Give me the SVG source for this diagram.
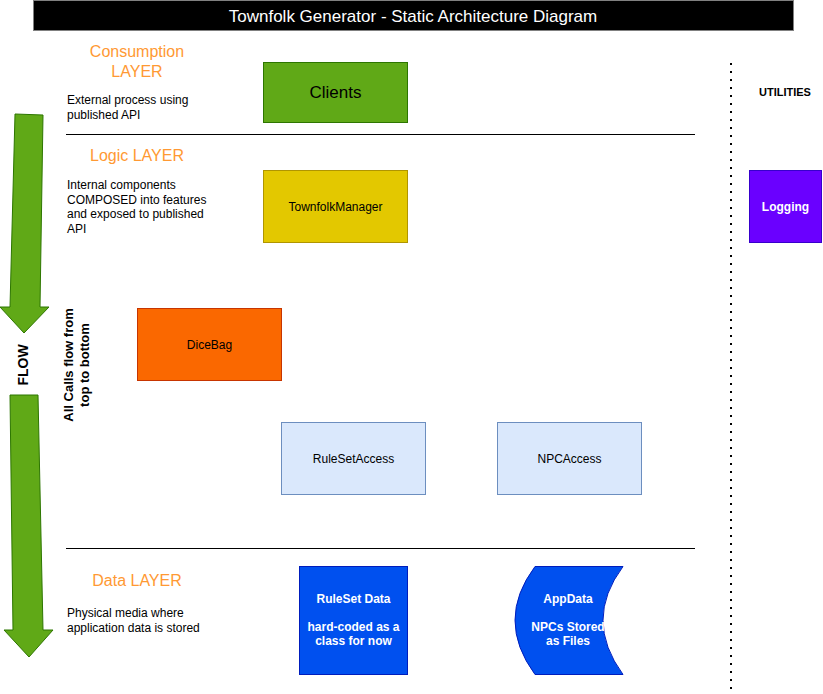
<svg xmlns="http://www.w3.org/2000/svg" width="823" height="694" viewBox="0 0 823 694">
<style>
text{font-family:"Liberation Sans",Arial,sans-serif}
.layer{fill:#FF9933;font-size:16px;text-anchor:middle}
.desc{fill:#000;font-size:12px}
.lbl{font-size:12px;text-anchor:middle;dominant-baseline:central}
.wb{fill:#fff;font-weight:bold;font-size:12px;text-anchor:middle;dominant-baseline:central}
.sep{stroke:#000;stroke-width:1}
.flow{fill:#60a917;stroke:#2D7600;stroke-width:1}
</style>
<rect width="823" height="694" fill="#fff"/>
<g id="title">
<rect x="33.5" y="0.5" width="760" height="30" fill="#000" stroke="#808080"/>
<text x="413" y="16" fill="#fff" font-size="17" text-anchor="middle" dominant-baseline="central">Townfolk Generator - Static Architecture Diagram</text>
</g>
<g id="labels">
<text class="layer" x="137" y="57">Consumption</text>
<text class="layer" x="137" y="77">LAYER</text>
<text class="desc" x="67" y="104">External process using</text>
<text class="desc" x="67" y="119">published API</text>
<text class="layer" x="137" y="161">Logic LAYER</text>
<text class="desc" x="67" y="189">Internal components</text>
<text class="desc" x="67" y="203.5">COMPOSED into features</text>
<text class="desc" x="67" y="218">and exposed to published</text>
<text class="desc" x="67" y="232.5">API</text>
<text class="layer" x="137" y="586">Data LAYER</text>
<text class="desc" x="67" y="617">Physical media where</text>
<text class="desc" x="67" y="632">application data is stored</text>
<text x="785" y="92" font-size="11" font-weight="bold" text-anchor="middle" dominant-baseline="central">UTILITIES</text>
</g>
<g id="flow">
<path class="flow" d="M15,114 L43,115 L40,307 L49,307 L24,333 L0,307 L10,307 Z"/>
<text x="23" y="365" font-size="14" font-weight="bold" text-anchor="middle" dominant-baseline="central" transform="rotate(-90 23 365)">FLOW</text>
<path class="flow" d="M10,395 L38,395 L43,630 L53,630 L29,657 L4,630 L13,630 Z"/>
<g transform="rotate(-90 75 365)" font-size="13" font-weight="bold" text-anchor="middle">
<text x="75" y="363">All Calls flow from</text>
<text x="75" y="379">top to bottom</text>
</g>
</g>
<g id="connectors">
<line class="sep" x1="66" y1="134.5" x2="695" y2="134.5"/>
<line class="sep" x1="66" y1="548.5" x2="695" y2="548.5"/>
<line x1="731" y1="63" x2="731" y2="690" stroke="#000" stroke-width="2" stroke-dasharray="2 6"/>
</g>
<g id="clients">
<rect x="263.5" y="62.5" width="144" height="60" fill="#60a917" stroke="#2D7600"/>
<text x="335.5" y="92.5" font-size="17" text-anchor="middle" dominant-baseline="central">Clients</text>
</g>
<g id="townfolkmanager">
<rect x="263.5" y="170.5" width="144" height="72" fill="#e3c800" stroke="#B09500"/>
<text class="lbl" x="335.5" y="206.5">TownfolkManager</text>
</g>
<g id="dicebag">
<rect x="137.5" y="308.5" width="144" height="72" fill="#fa6800" stroke="#C73500"/>
<text class="lbl" x="209.5" y="344.5">DiceBag</text>
</g>
<g id="rulesetaccess">
<rect x="281.5" y="422.5" width="144" height="72" fill="#dae8fc" stroke="#6c8ebf"/>
<text class="lbl" x="353.5" y="458.5">RuleSetAccess</text>
</g>
<g id="npcaccess">
<rect x="497.5" y="422.5" width="144" height="72" fill="#dae8fc" stroke="#6c8ebf"/>
<text class="lbl" x="569.5" y="458.5">NPCAccess</text>
</g>
<g id="logging">
<rect x="749.5" y="170.5" width="72" height="72" fill="#6a00ff" stroke="#3700CC"/>
<text class="wb" x="785.5" y="206.5">Logging</text>
</g>
<g id="rulesetdata">
<rect x="299.5" y="566.5" width="108" height="108" fill="#0050ef" stroke="#001DBC"/>
<text class="wb" x="353.5" y="599">RuleSet Data</text>
<text class="wb" x="353.5" y="627">hard-coded as a</text>
<text class="wb" x="353.5" y="641">class for now</text>
</g>
<g id="appdata">
<path d="M535,566.5 L623,566.5 Q583,620 623,674.5 L535,674.5 Q495,620 535,566.5 Z" fill="#0050ef" stroke="#001DBC"/>
<text class="wb" x="568" y="599">AppData</text>
<text class="wb" x="568" y="627">NPCs Stored</text>
<text class="wb" x="568" y="641">as Files</text>
</g>
</svg>
